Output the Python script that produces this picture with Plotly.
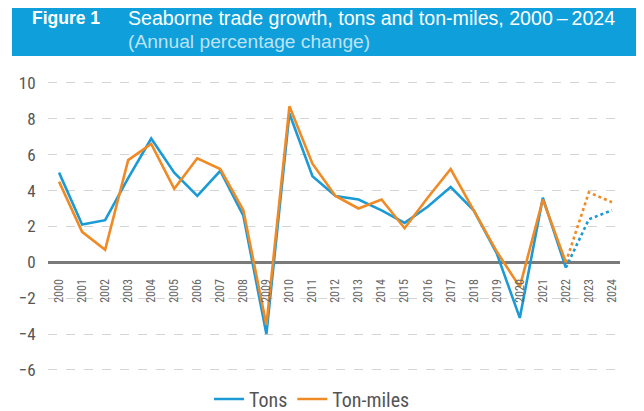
import plotly.graph_objects as go

# data (annual % change)
years = list(range(2000, 2025))
tons = [5.0, 2.1, 2.35, 4.7, 6.9, 5.0, 3.7, 5.1, 2.6, -4.0,
        8.3, 4.8, 3.7, 3.5, 2.9, 2.2, 3.1, 4.2, 2.9, 0.5,
        -3.1, 3.6, -0.3, 2.4, 2.9]
ton_miles = [4.5, 1.7, 0.7, 5.7, 6.6, 4.1, 5.8, 5.2, 2.9, -3.5,
             8.7, 5.5, 3.7, 3.0, 3.5, 1.9, 3.6, 5.2, 2.9, 0.6,
             -1.37, 3.5, 0.0, 3.9, 3.35]
series_names = ['Tons', 'Ton-miles']
last_actual = 2022  # values after this are projections (dotted)

blue = '#1b9ad6'
orange = '#f08a24'
banner = '#0f9fdb'
font_fam = 'Liberation Sans Narrow, Roboto Condensed, DejaVu Sans Condensed, Liberation Sans, Arial, sans-serif'
title_fam = 'Liberation Sans, Arial, sans-serif'

# the page body has an 8px margin, so figure coords are shifted by 8px;
# figure is a bit taller than the window so the legend doesn't push the margins
W, H = 644, 440
m_l, m_r, m_t, m_b = 40, 32, 71, 75
pw, ph = W - m_l - m_r, H - m_t - m_b
off = 8


def px_x(x):
    # x in screenshot pixels -> paper
    return (x - off - m_l) / pw


def px_y(y):
    return (H - m_b - (y - off)) / ph


y_range = [-6.17, 10.22]
cut = years.index(last_actual)

fig = go.Figure()

for name, vals, col in [(series_names[0], tons, blue), (series_names[1], ton_miles, orange)]:
    # actual values
    fig.add_trace(go.Scatter(
        x=years[:cut + 1], y=vals[:cut + 1], mode='lines',
        line=dict(color=col, width=2.6), name=name))
    # projections
    fig.add_trace(go.Scatter(
        x=years[cut:], y=vals[cut:], mode='lines',
        line=dict(color=col, width=2.6, dash='dot'),
        showlegend=False, hoverinfo='skip'))

# title banner
fig.add_shape(type='rect', xref='paper', yref='paper',
              x0=px_x(12), x1=px_x(W + 20), y0=px_y(56), y1=px_y(7),
              fillcolor=banner, line_width=0, layer='below')
fig.add_annotation(text='<b>Figure 1</b>', xref='paper', yref='paper',
                   x=px_x(30), y=px_y(17.5), xanchor='left', yanchor='middle',
                   showarrow=False, font=dict(size=17.5, color='white', family=title_fam))
fig.add_annotation(text='Seaborne trade growth, tons and ton-miles, 2000\u2009\u2013\u20092024',
                   xref='paper', yref='paper',
                   x=px_x(126), y=px_y(17.5), xanchor='left', yanchor='middle',
                   showarrow=False, font=dict(size=19.6, color='white', family=title_fam))
fig.add_annotation(text='(Annual percentage change)', xref='paper', yref='paper',
                   x=px_x(126), y=px_y(41), xanchor='left', yanchor='middle',
                   showarrow=False, font=dict(size=19.2, color='rgba(255,255,255,0.72)', family=title_fam))

fig.update_layout(
    width=W, height=H,
    margin=dict(l=m_l, r=m_r, t=m_t, b=m_b),
    plot_bgcolor='white', paper_bgcolor='white',
    font=dict(family=font_fam, color='#555555'),
    showlegend=True,
    legend=dict(orientation='h', x=px_x(312), y=px_y(399), xanchor='center', yanchor='middle',
                font=dict(size=20, color='#555555'), itemwidth=30),
    xaxis=dict(range=[1999.52, 2024.35], tickmode='array', tickvals=years,
               ticktext=[str(y) for y in years], tickangle=-90,
               tickfont=dict(size=12, color='#666666'),
               anchor='free', position=(0 - y_range[0]) / (y_range[1] - y_range[0]),
               ticks='outside', ticklen=11, tickcolor='rgba(0,0,0,0)',
               showgrid=False, showline=False, zeroline=False),
    yaxis=dict(range=y_range, tickvals=[-6, -4, -2, 0, 2, 4, 6, 8, 10],
               tickfont=dict(size=17, color='#555555'),
               ticks='outside', ticklen=8, tickcolor='rgba(0,0,0,0)',
               showgrid=True, gridcolor='#d4d4d4', griddash='dash', gridwidth=1,
               zeroline=True, zerolinecolor='#7a7a7a', zerolinewidth=2.5,
               showline=False),
)

fig.write_html("out.html")
